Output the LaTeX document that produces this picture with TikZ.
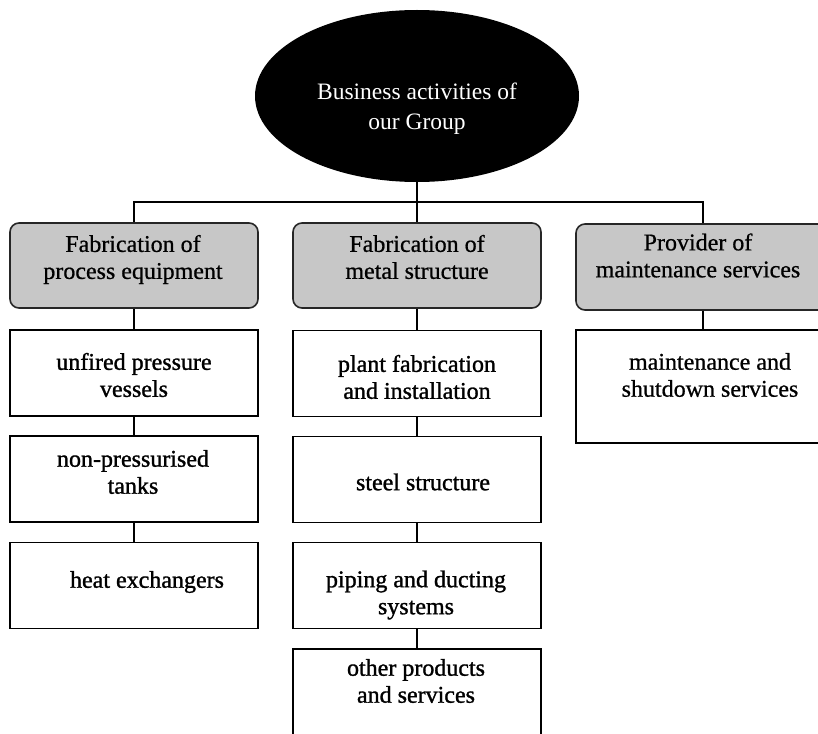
\documentclass[tikz,border=0pt]{standalone}
\usepackage{fontspec}
\setmainfont{Liberation Serif}
\newfontfamily\inkserif{Liberation Serif}[FakeBold=1.2]
\newfontfamily\softserif{Liberation Serif}[FakeBold=0.7]
\usetikzlibrary{shapes.geometric}

\tikzset{
  every node/.style={align=center},
  topnode/.style={ellipse, fill=black, minimum width=324pt,
    minimum height=172pt, inner sep=0pt},
  toptext/.style={text=white, font=\fontsize{23.5}{30}\selectfont},
  groupbox/.style={draw=black!85, line width=1.6pt, rounded corners=9pt,
    fill=black!22, minimum width=248pt, minimum height=85pt, inner sep=0pt},
  itembox/.style={draw=black, line width=1.5pt, fill=white,
    minimum width=248pt, minimum height=86pt, inner sep=0pt},
  itemtext/.style={font=\inkserif\fontsize{24}{27}\selectfont},
  plaintext/.style={font=\softserif\fontsize{24}{27}\selectfont},
  link/.style={draw=black, line width=1.4pt},
}

\begin{document}
\begin{tikzpicture}[x=1pt, y=-1pt]
  \useasboundingbox (0,0) rectangle (818,733);
  \clip (0,0) rectangle (818,733);

  % root
  \node[topnode] (top) at (417,96) {};
  \node[toptext] (topt) at (417,109) {Business activities of\\our Group};

  % business divisions
  \node[groupbox] (g1) at (134,265.5) {};
  \node[plaintext] (g1t) at (133,259.5) {Fabrication of\\process equipment};
  \node[groupbox] (g2) at (417,265.5) {};
  \node[plaintext] (g2t) at (417,257) {Fabrication of\\metal structure};
  \node[groupbox, minimum width=254pt, minimum height=86pt] (g3) at (703,267) {};
  \node[plaintext] (g3t) at (698,255.5) {Provider of\\maintenance services};

  % process equipment
  \node[itembox] (a1) at (134,373) {};
  \node[itemtext] (a1t) at (134,375) {unfired pressure\\vessels};
  \node[itembox] (a2) at (134,479) {};
  \node[itemtext] (a2t) at (133,472) {non-pressurised\\tanks};
  \node[itembox] (a3) at (134,585.5) {};
  \node[itemtext] (a3t) at (147,582) {heat exchangers};

  % metal structure
  \node[itembox] (m1) at (417,373.5) {};
  \node[itemtext] (m1t) at (417,377) {plant fabrication\\and installation};
  \node[itembox] (m2) at (417,479.5) {};
  \node[itemtext] (m2t) at (423,482) {steel structure};
  \node[itembox] (m3) at (417,585.5) {};
  \node[itemtext] (m3t) at (416,595) {piping and ducting\\systems};
  \node[itembox, minimum height=111pt] (m4) at (417,704.5) {};
  \node[itemtext] (m4t) at (416,681) {other products\\and services};

  % maintenance
  \node[itembox, minimum width=254pt, minimum height=113pt] (r1) at (703,386.5) {};
  \node[plaintext] (r1t) at (710,375) {maintenance and\\shutdown services};

  % connectors
  \coordinate (bus) at (417,202);
  \draw[link] (top.south) -- (g2.north);
  \draw[link] (g1.north) |- (bus) -| (g3.north);
  \draw[link] (g1.south) -- (a1.north);
  \draw[link] (a1.south) -- (a2.north);
  \draw[link] (a2.south) -- (a3.north);
  \draw[link] (g2.south) -- (m1.north);
  \draw[link] (m1.south) -- (m2.north);
  \draw[link] (m2.south) -- (m3.north);
  \draw[link] (m3.south) -- (m4.north);
  \draw[link] (g3.south) -- (r1.north);
\end{tikzpicture}
\end{document}
